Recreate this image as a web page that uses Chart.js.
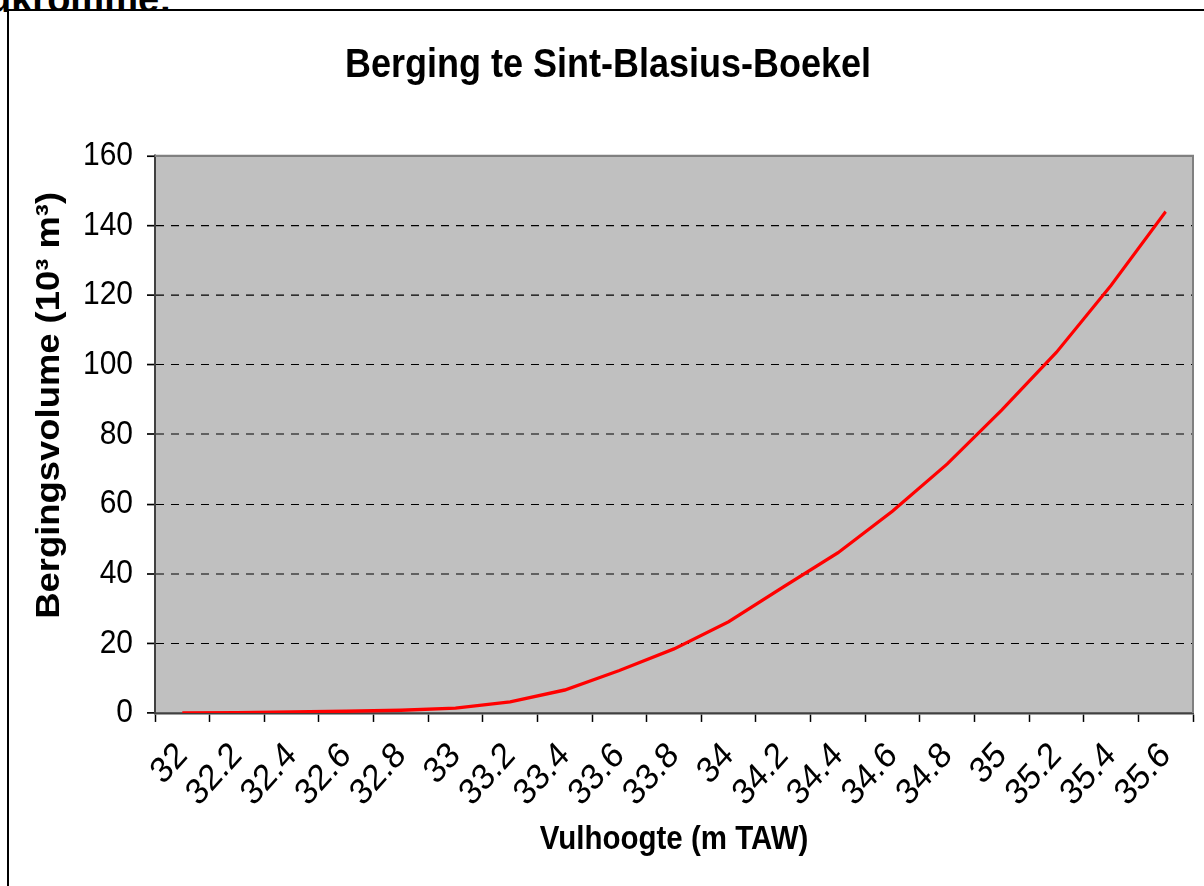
<!DOCTYPE html>
<html>
<head>
<meta charset="utf-8">
<script src="https://cdn.jsdelivr.net/npm/chart.js@4.4.1/dist/chart.umd.min.js"></script>
<style>
  html, body { margin: 0; padding: 0; background: #fff; overflow: hidden; }
  body { width: 1204px; height: 886px; position: relative; }
  #heading { position: absolute; left: -12px; top: -22px; font: bold 38px "Liberation Sans", Arial, sans-serif; color: #000; z-index: 0; white-space: nowrap; }
  #frame { position: absolute; left: 7px; top: 9px; width: 1400px; height: 1100px; border-left: 2px solid #000; border-top: 2px solid #000; background: #fff; z-index: 1; }
  #c { position: absolute; left: 0; top: 0; z-index: 2; }
</style>
</head>
<body>
<div id="heading">ukromme:</div>
<div id="frame"></div>
<canvas id="c" width="1204" height="886"></canvas>
<script>
// ---- data ----
const levels = ['32','32.2','32.4','32.6','32.8','33','33.2','33.4','33.6','33.8','34','34.2','34.4','34.6','34.8','35','35.2','35.4','35.6'];
const volumes = [0, 0.1, 0.3, 0.5, 0.8, 1.4, 3.2, 6.6, 12.2, 18.4, 26.2, 36.2, 46.0, 58.0, 71.5, 87.0, 103.6, 122.8, 144.0];
const yTicksMin = 0;
const yTicksMax = 160;
const yTickStep = 20;
const chartTitle = 'Berging te Sint-Blasius-Boekel';
const xTitle = 'Vulhoogte (m TAW)';
const yTitle = 'Bergingsvolume (10³ m³)';

const FONT = '"Liberation Sans", Arial, sans-serif';
const STRETCH_Y = 1.12;   // the reference is drawn slightly taller than wide

const plotBg = {
  id: 'plotBg',
  beforeDraw(chart) {
    const {ctx, chartArea: a} = chart;
    ctx.save();
    ctx.scale(1, STRETCH_Y);
    ctx.save();
    ctx.fillStyle = '#c0c0c0';
    ctx.fillRect(a.left, a.top, a.right - a.left, a.bottom - a.top);
    ctx.restore();
  },
  afterDraw(chart) {
    const {ctx, chartArea: a} = chart;
    ctx.save();
    ctx.strokeStyle = '#808080';
    ctx.lineWidth = 2;
    ctx.beginPath();
    ctx.moveTo(a.left, a.top);
    ctx.lineTo(a.right, a.top);
    ctx.lineTo(a.right, a.bottom);
    ctx.stroke();
    ctx.restore();
    ctx.restore();
  }
};

new Chart(document.getElementById('c'), {
  type: 'line',
  data: {
    labels: levels,
    datasets: [{
      data: volumes,
      borderColor: '#ff0000',
      borderWidth: 3,
      pointRadius: 0,
      tension: 0,
      fill: false
    }]
  },
  options: {
    responsive: false,
    animation: false,
    devicePixelRatio: 1,
    layout: { padding: { left: 23, right: 11, top: 0, bottom: 95 } },
    plugins: {
      legend: { display: false },
      tooltip: { enabled: false },
      title: {
        display: true,
        text: chartTitle,
        color: '#000',
        font: { family: FONT, size: 36, weight: 'bold' },
        padding: { top: 37, bottom: 59 }
      }
    },
    scales: {
      x: {
        type: 'category',
        offset: true,
        grid: { offset: true, drawOnChartArea: false, drawTicks: true, tickLength: 8, tickColor: '#000', tickWidth: 1.5 },
        border: { color: '#404040', width: 2 },
        ticks: { font: { family: FONT, size: 32.5 }, color: '#000', maxRotation: 45, minRotation: 45, padding: 11, autoSkip: false },
        title: { display: true, text: xTitle, color: '#000', font: { family: FONT, size: 29.5, weight: 'bold' }, padding: { top: 0, bottom: 23 } },
        afterFit(scale) { scale.height = 154.4; scale.paddingLeft = 0; scale.paddingRight = 0; }
      },
      y: {
        min: yTicksMin,
        max: yTicksMax,
        ticks: { stepSize: yTickStep, font: { family: FONT, size: 30 }, color: '#000', padding: 14 },
        grid: {
          color: (c) => (c.tick && (c.tick.value === yTicksMin || c.tick.value === yTicksMax)) ? 'rgba(0,0,0,0)' : '#000',
          lineWidth: 1, tickColor: '#000', tickLength: 8, tickWidth: 1.5, tickBorderDash: []
        },
        border: { color: '#404040', width: 2, dash: [8, 7] },
        title: { display: true, text: yTitle, color: '#000', font: { family: FONT, size: 32.5, weight: 'bold' }, padding: { top: 7.5, bottom: 0 } },
        afterFit(scale) {
          scale.width = 132;
          if (!scale._titleShifted) {
            const orig = scale.drawTitle;
            scale.drawTitle = function () {
              this.ctx.save();
              this.ctx.translate(0, -26);
              orig.apply(this, arguments);
              this.ctx.restore();
            };
            scale._titleShifted = true;
          }
        }
      }
    }
  },
  plugins: [plotBg]
});
</script>
</body>
</html>
